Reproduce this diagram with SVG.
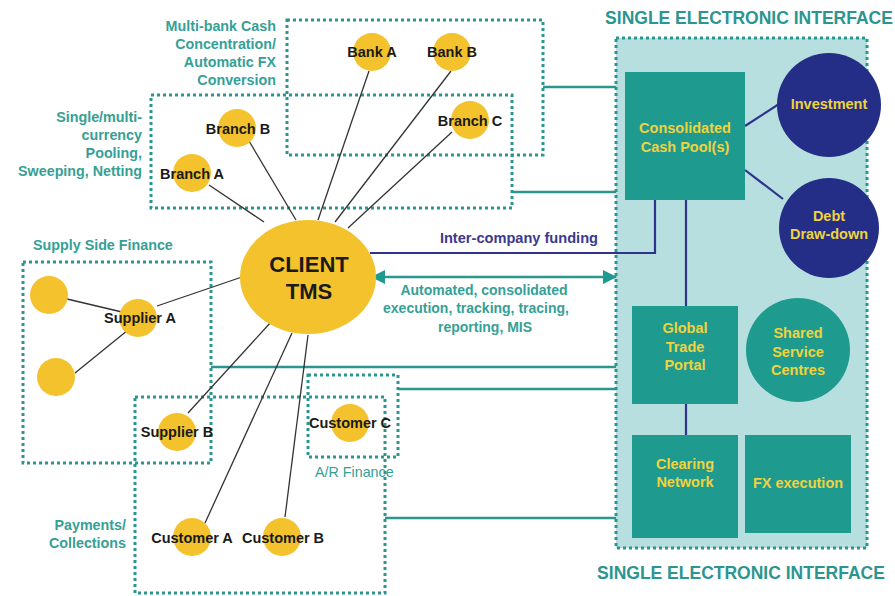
<svg xmlns="http://www.w3.org/2000/svg" width="895" height="596" viewBox="0 0 895 596">
  <defs>
    <style>
      .dot { fill: none; stroke: #2b958f; stroke-width: 3; stroke-dasharray: 3 3; }
      .link { fill: none; stroke: #2b958f; stroke-width: 2.5; }
      .navy { fill: none; stroke: #2f338c; stroke-width: 2.2; }
      .spoke { fill: none; stroke: #333; stroke-width: 1.3; }
      .node { fill: #f3c22c; }
      .box { fill: #1f9a8f; }
      .ball { fill: #242e86; }
      .lbl { font-family: "Liberation Sans", Arial, sans-serif; font-weight: bold; font-size: 14.5px; fill: #1a1a1a; text-anchor: middle; }
      .note { font-family: "Liberation Sans", Arial, sans-serif; font-weight: bold; font-size: 14.3px; fill: #35a096; }
      .inner { font-family: "Liberation Sans", Arial, sans-serif; font-weight: bold; font-size: 14.5px; fill: #efd23d; text-anchor: middle; }
      .title { font-family: "Liberation Sans", Arial, sans-serif; font-weight: bold; font-size: 17.5px; fill: #2b958f; text-anchor: middle; }
    </style>
    <marker id="tip" viewBox="0 0 14 14" refX="13" refY="7" markerWidth="14" markerHeight="14" markerUnits="userSpaceOnUse" orient="auto-start-reverse">
      <path d="M0,0 L14,7 L0,14 Z" fill="#1f9a8f"/>
    </marker>
  </defs>

  <rect width="895" height="596" fill="#ffffff"/>

  <!-- Single electronic interface panel -->
  <g id="interface">
    <rect x="616" y="38" width="251" height="510" fill="#b8dfe0"/>
    <rect x="616" y="38" width="251" height="510" class="dot"/>
    <text class="title" x="749" y="24">SINGLE ELECTRONIC INTERFACE</text>
    <text class="title" x="741" y="579">SINGLE ELECTRONIC INTERFACE</text>
  </g>

  <!-- Grouping frames -->
  <g id="frame-multibank">
    <rect x="287" y="20" width="256" height="135" class="dot"/>
    <text class="note" text-anchor="end"><tspan x="276" y="31">Multi-bank Cash</tspan><tspan x="276" y="49">Concentration/</tspan><tspan x="276" y="67">Automatic FX</tspan><tspan x="276" y="85">Conversion</tspan></text>
  </g>
  <g id="frame-pooling">
    <rect x="151" y="95" width="361" height="113" class="dot"/>
    <text class="note" text-anchor="end"><tspan x="142" y="122">Single/multi-</tspan><tspan x="142" y="140">currency</tspan><tspan x="142" y="158">Pooling,</tspan><tspan x="142" y="176">Sweeping, Netting</tspan></text>
  </g>
  <g id="frame-supply">
    <rect x="23" y="262" width="188" height="201" class="dot"/>
    <text class="note" x="33" y="250">Supply Side Finance</text>
  </g>
  <g id="frame-payments">
    <rect x="135" y="397" width="250" height="196" class="dot"/>
    <text class="note" text-anchor="end"><tspan x="126" y="530">Payments/</tspan><tspan x="126" y="548">Collections</tspan></text>
  </g>
  <g id="frame-ar">
    <rect x="308" y="375" width="90" height="82" class="dot"/>
    <text class="note" x="315" y="477" style="font-weight:normal">A/R Finance</text>
  </g>

  <!-- Connectors -->
  <g id="connectors">
    <!-- frames to interface -->
    <path class="link" d="M543,87 H616"/>
    <path class="link" d="M512,192 H616"/>
    <path class="link" d="M211,367 H616"/>
    <path class="link" d="M398,389 H616"/>
    <path class="link" d="M385,518 H616"/>
    <!-- automated execution, both ways -->
    <path class="link" d="M372,277 H616" stroke-width="3" marker-start="url(#tip)" marker-end="url(#tip)"/>
    <!-- inter-company funding -->
    <path class="navy" d="M370,253 H655 V200"/>
    <!-- internal links -->
    <path class="navy" d="M686,200 V306"/>
    <path class="navy" d="M686,404 V435"/>
    <path class="navy" stroke-width="2.8" d="M745,126 L779,104"/>
    <path class="navy" stroke-width="2.8" d="M745,170 L783,199"/>
    <!-- spokes from client TMS -->
    <path class="spoke" d="M209,185 L264,222"/>
    <path class="spoke" d="M249,141 L296,220"/>
    <path class="spoke" d="M369,71 L318,220"/>
    <path class="spoke" d="M451,71 L335,222"/>
    <path class="spoke" d="M452,132 L348,228"/>
    <path class="spoke" d="M157,306 L242,277"/>
    <path class="spoke" d="M188,413 L271,322"/>
    <path class="spoke" d="M205,523 L292,333"/>
    <path class="spoke" d="M285,517 L308,335"/>
    <!-- supplier A sub-tier -->
    <path class="spoke" d="M67,299 L122,312"/>
    <path class="spoke" d="M75,373 L128,330"/>
  </g>

  <!-- Interface contents -->
  <g id="cash-pool">
    <rect class="box" x="625" y="72" width="120" height="128"/>
    <text class="inner"><tspan x="685" y="133">Consolidated</tspan><tspan x="685" y="152">Cash Pool(s)</tspan></text>
  </g>
  <g id="investment">
    <circle class="ball" cx="829" cy="105" r="52"/>
    <text class="inner" x="829" y="109">Investment</text>
  </g>
  <g id="debt">
    <circle class="ball" cx="829" cy="228" r="50"/>
    <text class="inner"><tspan x="829" y="221">Debt</tspan><tspan x="829" y="239">Draw-down</tspan></text>
  </g>
  <g id="trade-portal">
    <rect class="box" x="632" y="306" width="106" height="98"/>
    <text class="inner"><tspan x="685" y="333">Global</tspan><tspan x="685" y="352">Trade</tspan><tspan x="685" y="370">Portal</tspan></text>
  </g>
  <g id="shared-services">
    <circle class="box" cx="798" cy="350" r="52"/>
    <text class="inner"><tspan x="798" y="338">Shared</tspan><tspan x="798" y="357">Service</tspan><tspan x="798" y="375">Centres</tspan></text>
  </g>
  <g id="clearing">
    <rect class="box" x="632" y="435" width="106" height="103"/>
    <text class="inner"><tspan x="685" y="469">Clearing</tspan><tspan x="685" y="487">Network</tspan></text>
  </g>
  <g id="fx-execution">
    <rect class="box" x="745" y="435" width="106" height="98"/>
    <text class="inner" x="798" y="488">FX execution</text>
  </g>

  <!-- Client TMS hub -->
  <g id="client-tms">
    <ellipse class="node" cx="308" cy="277" rx="68" ry="57"/>
    <text class="lbl" style="font-size:22px"><tspan x="309" y="272">CLIENT</tspan><tspan x="309" y="299">TMS</tspan></text>
  </g>

  <!-- Counterparty nodes -->
  <g id="bank-a"><circle class="node" cx="372" cy="52" r="19"/><text class="lbl" x="372" y="57">Bank A</text></g>
  <g id="bank-b"><circle class="node" cx="452" cy="52" r="19"/><text class="lbl" x="452" y="57">Bank B</text></g>
  <g id="branch-c"><circle class="node" cx="470" cy="120" r="19"/><text class="lbl" x="470" y="126">Branch C</text></g>
  <g id="branch-b"><circle class="node" cx="237" cy="128" r="19"/><text class="lbl" x="238" y="134">Branch B</text></g>
  <g id="branch-a"><circle class="node" cx="192" cy="173" r="19"/><text class="lbl" x="192" y="179">Branch A</text></g>
  <g id="supplier-a"><circle class="node" cx="138" cy="318" r="19"/><text class="lbl" x="140" y="323">Supplier A</text></g>
  <g id="sub-supplier-1"><circle class="node" cx="49" cy="295" r="19"/></g>
  <g id="sub-supplier-2"><circle class="node" cx="56" cy="377" r="19"/></g>
  <g id="supplier-b"><circle class="node" cx="177" cy="432" r="19"/><text class="lbl" x="177" y="437">Supplier B</text></g>
  <g id="customer-c"><circle class="node" cx="350" cy="423" r="19"/><text class="lbl" x="350" y="428">Customer C</text></g>
  <g id="customer-a"><circle class="node" cx="192" cy="537" r="19"/><text class="lbl" x="192" y="543">Customer A</text></g>
  <g id="customer-b"><circle class="node" cx="282" cy="537" r="19"/><text class="lbl" x="283" y="543">Customer B</text></g>

  <!-- Flow captions -->
  <g id="captions">
    <text x="598" y="243" text-anchor="end" style="font-family:'Liberation Sans', Arial, sans-serif; font-weight:bold; font-size:14.6px; fill:#3b3a8e">Inter-company funding</text>
    <text class="note" text-anchor="middle" style="font-size:14px"><tspan x="484" y="295">Automated, consolidated</tspan><tspan x="476" y="313">execution, tracking, tracing,</tspan><tspan x="485" y="332">reporting, MIS</tspan></text>
  </g>
</svg>
